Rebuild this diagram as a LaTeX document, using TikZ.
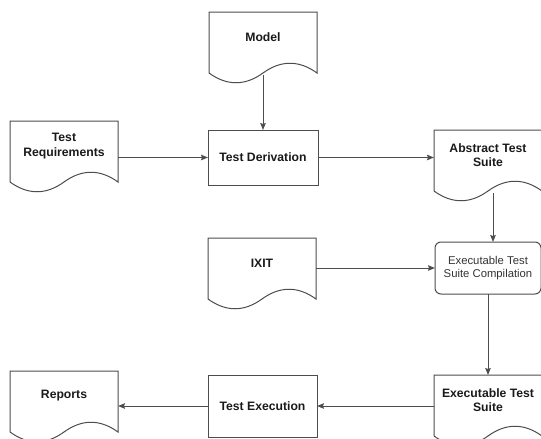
\documentclass[tikz,border=0pt]{standalone}
\usepackage{fontspec}
\setmainfont{Liberation Sans}
\usetikzlibrary{arrows.meta, positioning}

\definecolor{linegray}{HTML}{4D4D4D}
\definecolor{textdark}{HTML}{1A1A1A}

\begin{document}
\begin{tikzpicture}[
node distance=60pt and 90pt,
doc/.style={rectangle, minimum height=50pt, minimum width=108pt, outer sep=0pt, align=center, text=textdark, font=\bfseries\fontsize{12.2}{14.5}\selectfont},
box/.style={rectangle, draw=linegray, line width=1pt, minimum height=55pt, minimum width=110pt, outer sep=0pt, align=center, text=textdark, font=\bfseries\fontsize{12.2}{14.5}\selectfont},
docline/.style={draw=linegray, line width=1pt},
arrow/.style={-{Stealth[length=7pt,width=5.5pt,inset=1pt]}, draw=linegray, line width=1pt}
]
\useasboundingbox (0,0) rectangle (541pt,-439pt);

\node[box] (deriv) at (263pt,-157.5pt) {Test Derivation};
\node[doc, above=68pt of deriv] (model) {Model};
\node[doc, left=90pt of deriv, yshift=11.5pt] (req) {Test\\Requirements};
\node[doc, right=116pt of deriv, yshift=2.5pt] (abs) {Abstract Test\\Suite};
\node[box, rounded corners=6pt, minimum width=106pt, minimum height=52pt, text=black!80, font=\fontsize{11.3}{13}\selectfont, below=62pt of abs] (comp) {Executable Test\\Suite Compilation};
\node[doc, left=119pt of comp, yshift=5pt] (ixit) {IXIT};
\node[doc, below=81pt of comp] (ets) {Executable Test\\Suite};
\node[box, minimum height=62pt, minimum width=109pt, left=117pt of ets, yshift=-6pt] (exec) {Test Execution};
\node[doc, left=90pt of exec, yshift=10pt] (reports) {Reports};

% document outlines with wavy bottom
\foreach \n in {model,req,abs,ixit,ets,reports}
  \draw[docline] (\n.north west) -- (\n.north east) -- ([yshift=-11pt]\n.south east)
    .. controls ([xshift=-18pt,yshift=2pt]\n.south east) and ([xshift=-36pt,yshift=2pt]\n.south east) .. ([yshift=-11pt]\n.south)
    .. controls ([xshift=36pt,yshift=-24pt]\n.south west) and ([xshift=18pt,yshift=-24pt]\n.south west) .. ([yshift=-11pt]\n.south west)
    -- cycle;

\draw[arrow] ([yshift=-13pt]model.south) -- (deriv);
\draw[arrow] (req.east |- deriv) -- (deriv);
\draw[arrow] (deriv) -- (abs.west |- deriv);
\draw[arrow] ([xshift=5pt,yshift=-13pt]abs.south) -- ([xshift=5pt]comp.north);
\draw[arrow] (ixit.east |- comp) -- (comp);
\draw[arrow] (comp) -- (ets);
\draw[arrow] (ets.west |- exec) -- (exec);
\draw[arrow] (exec) -- (reports.east |- exec);
\end{tikzpicture}
\end{document}
